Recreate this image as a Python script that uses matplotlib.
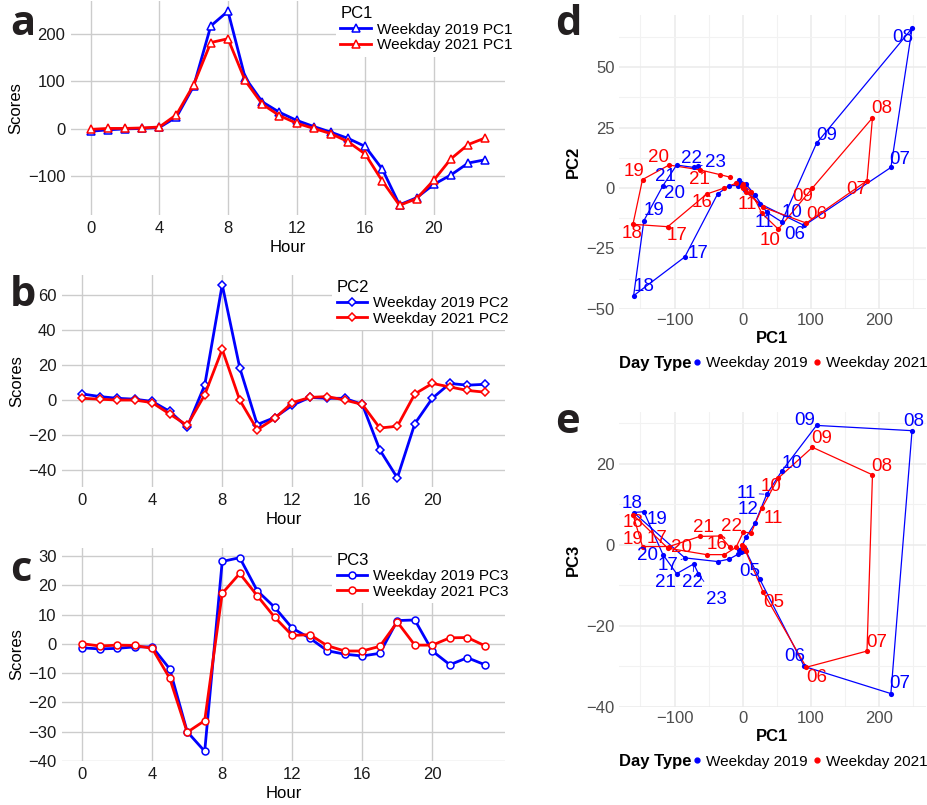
import numpy as np
import matplotlib
matplotlib.use("Agg")
import matplotlib.pyplot as plt
from matplotlib.lines import Line2D

plt.rcParams['font.family'] = ['Liberation Sans', 'DejaVu Sans']

# ---------------- data ----------------
hours = list(range(24))

pc1_2019 = [-5, -2, 0, 1, 3, 25, 90, 217, 248, 108, 57, 35, 18, 5, -7, -20,
            -37, -85, -160, -145, -117, -97, -72, -65]
pc1_2021 = [-1, 1, 1, 2, 4, 30, 93, 182, 190, 102, 52, 28, 12, 1, -10, -27,
            -53, -110, -161, -147, -108, -63, -33, -19]

pc2_2019 = [3.5, 2, 1, 0.5, -0.8, -6.5, -15.5, 8.5, 66, 18.5, -14, -10, -3,
            1.5, 1, 1, -2.5, -28.5, -44.5, -13.5, 1, 9.5, 8.5, 9]
pc2_2021 = [1, 0.5, 0, 0, -1.5, -8, -14.5, 3, 29, 0, -17, -10.5, -1.5, 1.5,
            2, 0, -2.5, -16, -15, 3.5, 9.5, 7.5, 5.5, 4.5]

pc3_2019 = [-1.3, -1.7, -1.5, -1, -1, -8.5, -30, -36.7, 28.2, 29.5, 18.2, 12.5,
            5.4, 2, -2.3, -3.5, -4.1, -3.2, 8, 8.2, -2.4, -7.1, -4.7, -7.1]
pc3_2021 = [0.1, -0.7, -0.4, -0.5, -1.5, -11.7, -30.2, -26.2, 17.3, 24.1, 16.5,
            9.1, 2.9, 3.2, -0.6, -2.4, -2.4, -0.8, 7.5, -0.4, -0.4, 2.1, 2.2, -0.6]

# tick values
hour_ticks = [0, 4, 8, 12, 16, 20]
pc1_ticks = [-100, 0, 100, 200]
pc2_ticks = [-40, -20, 0, 20, 40, 60]
pc3_ticks = [-40, -30, -20, -10, 0, 10, 20, 30]
map_x_ticks = [-100, 0, 100, 200]
map_x_minor = [-150, -50, 50, 150, 250]
map_pc2_ticks = [-50, -25, 0, 25, 50]
map_pc2_minor = [-37.5, -12.5, 12.5, 37.5, 62.5]
map_pc3_ticks = [-40, -20, 0, 20]
map_pc3_minor = [-30, -10, 10, 30]

# which hours get a text label in the PC1/PC2 and PC1/PC3 maps
lab_d_2019 = ['06', '07', '08', '09', '10', '11', '17', '18', '19', '20', '21', '22', '23']
lab_d_2021 = ['06', '07', '08', '09', '10', '11', '16', '17', '18', '19', '20', '21']
lab_e_2019 = ['05', '06', '07', '08', '09', '10', '11', '12', '17', '18', '19', '20', '21', '22', '23']
lab_e_2021 = ['05', '06', '07', '08', '09', '10', '11', '16', '17', '18', '19', '20', '21', '22']

# label nudges in screen pixels (dx right, dy down), like ggrepel placed them
nudge_d_2019 = {'08': (-9, 9), '09': (10, -8), '07': (9, -8), '06': (-9, 9), '10': (10, -9),
                '11': (-2, 10), '17': (13, -3), '18': (10, -9), '19': (10, -10), '20': (12, 8),
                '21': (-11, 11), '22': (-2, -9), '23': (17, -4)}
nudge_d_2021 = {'08': (9, -9), '09': (-10, 8), '07': (-10, 9), '06': (10, -9), '10': (-8, 11),
                '11': (-15, -9), '16': (-5, 8), '17': (9, 9), '18': (-1, 9), '19': (-9, -8),
                '20': (-11, -8), '21': (0, 10)}
nudge_e_2019 = {'09': (-12, -5), '08': (2, -9), '10': (10, -8), '11': (-20, -1), '12': (-7, -14),
                '18': (-2, -9), '19': (13, 8), '20': (-15, 1), '17': (-17, 8), '21': (-11, 9),
                '22': (-1, 19), '23': (18, 26), '05': (-10, -8), '06': (-9, -10), '07': (9, -10)}
nudge_e_2021 = {'09': (9, -9), '08': (9, -8), '10': (-7, 8), '11': (11, 10), '18': (0, 8),
                '19': (-10, -7), '17': (-11, -10), '20': (12, 1), '21': (4, -9), '22': (11, -10),
                '16': (10, -10), '05': (10, 10), '07': (10, -9), '06': (10, 10)}

BLUE = '#0000FF'
RED = '#FF0000'

W, H = 928, 805
fig = plt.figure(figsize=(W / 100, H / 100), dpi=100)


def box(l, t, r, b):
    return [l / W, 1 - b / H, (r - l) / W, (b - t) / H]


def letter_text(x, y, s):
    fig.text(x / W, 1 - y / H, s, fontsize=30, fontweight='bold',
             family=['Open Sans', 'DejaVu Sans'], va='baseline', color='#231f20')


def line_panel(rect, y19, y21, marker, ms, pc, yticks, letter, letter_y):
    ax = fig.add_axes(rect)
    ax.plot(hours, y19, color=BLUE, lw=2, marker=marker, ms=ms, mfc='white',
            mec=BLUE, mew=1.1, label='Weekday 2019 ' + pc)
    ax.plot(hours, y21, color=RED, lw=2, marker=marker, ms=ms, mfc='white',
            mec=RED, mew=1.1, label='Weekday 2021 ' + pc)
    ax.set_xticks(hour_ticks)
    ax.set_yticks(yticks)
    ax.grid(True, color='#cccccc', lw=1)
    ax.set_axisbelow(True)
    for s in ax.spines.values():
        s.set_visible(False)
    ax.tick_params(length=0, labelsize=12, colors='#1a1a1a', pad=4)
    ax.set_xlabel('Hour', fontsize=12, labelpad=3)
    ax.set_ylabel('Scores', fontsize=12, labelpad=3)
    leg = ax.legend(title=pc, loc='upper left', bbox_to_anchor=(0.61, 1.0),
                    fontsize=11, title_fontsize=12, frameon=True, framealpha=1,
                    edgecolor='none', handlelength=2, handletextpad=0.4,
                    borderpad=0.3, labelspacing=0.1, borderaxespad=0)
    leg._legend_box.align = 'left'
    letter_text(10, letter_y, letter)
    return ax


line_panel(box(71, 1.5, 505, 215), pc1_2019, pc1_2021, '^', 5.5, 'PC1', pc1_ticks, 'a', 35)
line_panel(box(62, 275, 505, 487.5), pc2_2019, pc2_2021, 'D', 4.3, 'PC2', pc2_ticks, 'b', 306)
line_panel(box(62, 548, 505, 761), pc3_2019, pc3_2021, 'o', 5, 'PC3', pc3_ticks, 'c', 581)


def map_panel(rect, ys19, ys21, ylab, yticks, yminor, labs19, labs21, nud19, nud21,
              letter, letter_y):
    ax = fig.add_axes(rect)
    for xs, ys, labs, nud, c in [(pc1_2019, ys19, labs19, nud19, BLUE),
                                 (pc1_2021, ys21, labs21, nud21, RED)]:
        ax.plot(xs, ys, color=c, lw=0.9)
        ax.scatter(xs, ys, color=c, s=14, zorder=3, linewidths=0)
        for h in labs:
            i = int(h)
            dx, dy = nud[h]
            arrow = None
            if (dx * dx + dy * dy) ** 0.5 > 16:
                arrow = dict(arrowstyle='-', color=c, lw=0.6, shrinkA=6, shrinkB=2)
            ax.annotate(h, (xs[i], ys[i]), xytext=(dx, -dy), textcoords='offset pixels',
                        ha='center', va='center', color=c, fontsize=13.5,
                        arrowprops=arrow, zorder=4)
    ax.set_xticks(map_x_ticks)
    ax.set_xticks(map_x_minor, minor=True)
    ax.set_yticks(yticks)
    ax.set_yticks(yminor, minor=True)
    ax.grid(True, which='major', color='#ebebeb', lw=1.1)
    ax.grid(True, which='minor', color='#f2f2f2', lw=0.8)
    ax.set_axisbelow(True)
    for s in ax.spines.values():
        s.set_visible(False)
    ax.tick_params(which='both', length=0, labelsize=12, colors='#4d4d4d', pad=3)
    ax.set_xlabel('PC1', fontsize=12, fontweight='bold', labelpad=2)
    ax.set_ylabel(ylab, fontsize=12, fontweight='bold', labelpad=4)
    handles = [Line2D([], [], ls='none', marker='o', ms=3.5, color=BLUE),
               Line2D([], [], ls='none', marker='o', ms=3.5, color=RED)]
    ax.legend(handles, ['Weekday 2019', 'Weekday 2021'], ncol=2, loc='center left',
              bbox_to_anchor=(0.22, -0.185), frameon=False, fontsize=11,
              handlelength=0.6, handletextpad=0.3, columnspacing=0.3, borderaxespad=0)
    ax.text(0.0, -0.185, 'Day Type', transform=ax.transAxes, fontsize=12,
            fontweight='bold', va='center', ha='left')
    letter_text(555, letter_y, letter)
    return ax


map_panel(box(619, 15, 926, 309), pc2_2019, pc2_2021, 'PC2', map_pc2_ticks, map_pc2_minor,
          lab_d_2019, lab_d_2021, nudge_d_2019, nudge_d_2021, 'd', 35)
map_panel(box(619, 412, 926, 707), pc3_2019, pc3_2021, 'PC3', map_pc3_ticks, map_pc3_minor,
          lab_e_2019, lab_e_2021, nudge_e_2019, nudge_e_2021, 'e', 433)

fig.savefig('out.png', dpi=100)
